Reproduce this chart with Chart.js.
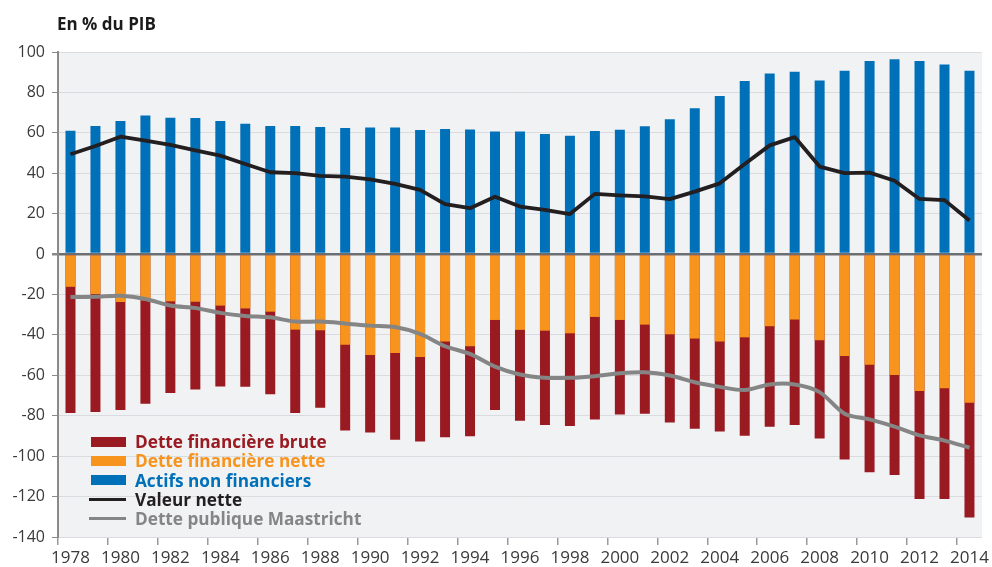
<!DOCTYPE html>
<html>
<head>
<meta charset="utf-8">
<script src="https://cdn.jsdelivr.net/npm/chart.js@4/dist/chart.umd.min.js"></script>
<style>
  body { margin: 0; background: #fff; }
  #wrap { position: relative; width: 992px; height: 567px; }
  #title { position: absolute; left: 57px; top: 12px; font: bold 17px "Open Sans", sans-serif; color: #1a1a1a; }
  #legend { position: absolute; left: 89px; top: 432px; font: bold 17.2px "Open Sans", sans-serif; }
  .item { height: 19.25px; line-height: 19.25px; display: flex; align-items: center; white-space: nowrap; }
  .box { width: 35px; height: 10px; margin-right: 9px; margin-left: 2px; }
  .ln { width: 37px; height: 3px; margin-right: 9px; }
</style>
</head>
<body>
<div id="wrap">
  <canvas id="chart" width="992" height="567"></canvas>
  <div id="title">En % du PIB</div>
  <div id="legend"></div>
</div>
<script>
const years = [];
for (let y = 1978; y <= 2014; y++) years.push(String(y));

const actifs = [61.0, 63.4, 65.8, 68.6, 67.5, 67.3, 65.8, 64.5, 63.4, 63.4, 62.9, 62.4, 62.7,
  62.7, 61.4, 61.9, 61.7, 60.7, 60.7, 59.4, 58.6, 60.9, 61.5, 63.2, 66.7, 72.2,
  78.2, 85.6, 89.4, 90.2, 85.9, 90.7, 95.6, 96.4, 95.6, 93.8, 90.7];

const detteNette = [-16.2, -19.8, -23.7, -22.9, -23.4, -23.6, -25.5, -26.9, -28.5, -37.4, -37.7, -44.9, -49.9,
  -48.9, -50.9, -43.2, -45.6, -32.6, -37.5, -37.9, -39.2, -31.1, -32.6, -34.9, -39.7, -41.8,
  -43.2, -41.2, -35.7, -32.4, -42.7, -50.4, -54.8, -59.8, -67.7, -66.4, -73.6];

const detteBrute = [-78.7, -78.2, -77.2, -74.1, -68.8, -67.0, -65.5, -65.7, -69.3, -78.7, -76.0, -87.3, -88.3,
  -91.9, -92.7, -90.7, -90.2, -77.2, -82.5, -84.6, -85.1, -81.8, -79.4, -79.0, -83.3, -86.4,
  -87.8, -89.9, -85.4, -84.6, -91.2, -101.6, -108.0, -109.3, -121.2, -121.2, -130.4];

const valeurNette = [49.4, 53.5, 58.1, 56.1, 54.0, 51.3, 48.7, 44.6, 40.5, 40.1, 38.7, 38.3, 37.0,
  34.7, 31.8, 24.7, 22.7, 28.4, 23.5, 21.9, 19.8, 29.8, 29.1, 28.6, 27.2, 30.9,
  35.0, 44.6, 53.8, 57.9, 43.3, 40.1, 40.3, 36.3, 27.3, 26.7, 16.6];

const maastricht = [-21.2, -21.1, -20.6, -22.2, -25.4, -26.7, -29.1, -30.6, -31.3, -33.4, -33.4, -34.3, -35.4,
  -36.1, -39.5, -45.6, -49.4, -55.7, -59.6, -61.2, -61.2, -60.4, -59.0, -58.5, -60.1, -63.4,
  -65.7, -67.3, -64.5, -64.5, -68.3, -79.0, -81.8, -85.4, -89.7, -92.3, -95.8];

const yTicks = [100, 80, 60, 40, 20, 0, -20, -40, -60, -80, -100, -120, -140];

const colors = {
  brute: '#9a1a22',
  nette: '#f7941d',
  actifs: '#0070b9',
  valeur: '#231f20',
  maastricht: '#858585'
};

const legendItems = [
  { label: 'Dette financière brute', color: colors.brute, kind: 'box' },
  { label: 'Dette financière nette', color: colors.nette, kind: 'box' },
  { label: 'Actifs non financiers', color: colors.actifs, kind: 'box' },
  { label: 'Valeur nette', color: colors.valeur, kind: 'ln' },
  { label: 'Dette publique Maastricht', color: colors.maastricht, kind: 'ln' }
];

const legendEl = document.getElementById('legend');
legendItems.forEach(it => {
  const row = document.createElement('div');
  row.className = 'item';
  row.innerHTML = '<span class="' + it.kind + '" style="background:' + it.color + '"></span>' +
    '<span style="color:' + it.color + '">' + it.label + '</span>';
  legendEl.appendChild(row);
});

// fond gris de la zone de tracé
const plotBg = {
  id: 'plotBg',
  beforeDraw(chart) {
    const { ctx, chartArea: a } = chart;
    ctx.save();
    ctx.fillStyle = '#f0f2f4';
    ctx.fillRect(a.left, a.top, a.right - a.left, a.bottom - a.top);
    ctx.restore();
  }
};

const barOpts = { barPercentage: 1, categoryPercentage: 0.4, grouped: false };

new Chart(document.getElementById('chart'), {
  data: {
    labels: years,
    datasets: [
      { type: 'line', label: 'Valeur nette', data: valeurNette, borderColor: colors.valeur,
        borderWidth: 3.8, pointRadius: 0, tension: 0, borderJoinStyle: 'round', order: 0 },
      { type: 'line', label: 'Dette publique Maastricht', data: maastricht, borderColor: colors.maastricht,
        borderWidth: 4, pointRadius: 0, tension: 0.3, order: 0 },
      Object.assign({ type: 'bar', label: 'Dette financière nette', data: detteNette,
        backgroundColor: colors.nette, order: 1 }, barOpts),
      Object.assign({ type: 'bar', label: 'Dette financière brute', data: detteBrute,
        backgroundColor: colors.brute, order: 2 }, barOpts),
      Object.assign({ type: 'bar', label: 'Actifs non financiers', data: actifs,
        backgroundColor: colors.actifs, order: 3 }, barOpts)
    ]
  },
  options: {
    responsive: false,
    animation: false,
    layout: { padding: { top: 52, right: 7, left: 0, bottom: 0 } },
    plugins: { legend: { display: false }, tooltip: { enabled: false } },
    scales: {
      x: {
        offset: true,
        afterFit(s) { s.height = 30; },
        border: { display: false },
        grid: {
          offset: true,
          drawOnChartArea: false,
          tickLength: 8,
          lineWidth: 1.5,
          color: ctx => (ctx.index % 2 === 0 ? '#9a9a9a' : 'rgba(0,0,0,0)')
        },
        ticks: {
          autoSkip: false,
          maxRotation: 0,
          padding: 3,
          color: '#3a3a3a',
          font: { family: 'Open Sans', size: 17 },
          callback: (v, i) => (i % 2 === 0 ? years[i] : '')
        }
      },
      y: {
        min: -140,
        max: 100,
        afterFit(s) { s.width = 58; },
        afterBuildTicks(s) { s.ticks = yTicks.map(v => ({ value: v })); },
        border: { color: '#8a8a8a', width: 2 },
        grid: {
          tickLength: 6,
          color: ctx => (ctx.tick && ctx.tick.value === 0 ? '#6d6e71' : '#d9dbde'),
          lineWidth: ctx => (ctx.tick && ctx.tick.value === 0 ? 2.5 : 1),
          tickColor: '#8a8a8a'
        },
        ticks: {
          padding: 7,
          color: '#3a3a3a',
          font: { family: 'Open Sans', size: 16 }
        }
      }
    }
  },
  plugins: [plotBg]
});
</script>
</body>
</html>
